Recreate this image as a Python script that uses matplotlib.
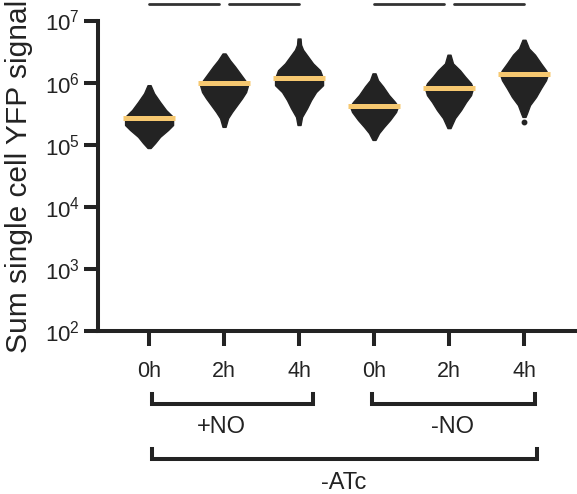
import numpy as np
import matplotlib
matplotlib.use('Agg')
import matplotlib.pyplot as plt
from matplotlib.ticker import NullLocator

# ---------------- data ----------------
time_labels = ['0h', '2h', '4h', '0h', '2h', '4h']

# shape of each single-cell distribution: log10 signal levels and relative spread
levels_g1 = [5.96, 5.83, 5.69, 5.56, 5.45, 5.32, 5.24, 5.13, 5.03, 4.95]
spread_g1 = [1.5, 5, 11, 17, 24, 24, 19, 11, 6, 1.5]
levels_g2 = [6.47, 6.36, 6.26, 6.15, 6.04, 5.96, 5.85, 5.75, 5.64, 5.53, 5.43, 5.29]
spread_g2 = [1.5, 6, 11, 16, 21, 24, 22, 18, 13, 8, 4, 1.5]
levels_g3 = [6.71, 6.61, 6.53, 6.42, 6.31, 6.20, 6.07, 5.96, 5.85, 5.72, 5.59, 5.45, 5.32]
spread_g3 = [1.5, 2, 4, 9, 14, 21, 24, 24, 17, 12, 8, 3, 1.5]
levels_g4 = [6.15, 6.04, 5.94, 5.80, 5.69, 5.62, 5.53, 5.40, 5.29, 5.19, 5.08]
spread_g4 = [1.5, 4, 9, 15, 21, 24, 22, 16, 10, 5, 1.5]
levels_g5 = [6.45, 6.31, 6.20, 6.10, 5.99, 5.91, 5.80, 5.69, 5.56, 5.43, 5.27]
spread_g5 = [1.5, 4, 11, 16, 22, 24, 22, 17, 12, 6, 1.5]
levels_g6 = [6.69, 6.55, 6.45, 6.31, 6.20, 6.14, 6.04, 5.91, 5.77, 5.64, 5.51, 5.45]
spread_g6 = [1.5, 5, 11, 17, 22, 24, 22, 17, 12, 6, 3, 1.5]

outlier_group = [5]
outlier_value = [2.35e5]

medians = [2.7e5, 9.8e5, 1.2e6, 4.2e5, 8.1e5, 1.38e6]

ytick_exponents = [2, 3, 4, 5, 6, 7]

sig_segments = [(0.0, 0.93), (1.07, 2.0), (3.0, 3.93), (4.07, 5.0)]

group_brackets = [('+NO', 0.04, 2.19, 0.96), ('-NO', 2.97, 5.15, 4.04)]
outer_bracket = ('-ATc', 0.04, 5.17, 2.6)

# ---------------- style ----------------
dark = '#232323'
yellow = '#F6C870'
width_scale = 1 / 75.0
plt.rcParams['font.family'] = ['Liberation Sans', 'DejaVu Sans']
plt.rcParams['mathtext.fontset'] = 'custom'
plt.rcParams['mathtext.rm'] = 'Liberation Sans'

fig = plt.figure(figsize=(5.77, 4.94), dpi=100)
ax = fig.add_axes([0.170, 0.329, 0.8265, 0.6295])
ax.set_yscale('log')
ax.set_ylim(1e2, 1e7)
ax.set_xlim(-0.68, 5.68)

levels = [levels_g1, levels_g2, levels_g3, levels_g4, levels_g5, levels_g6]
spreads = [spread_g1, spread_g2, spread_g3, spread_g4, spread_g5, spread_g6]
for i, (lv, sp) in enumerate(zip(levels, spreads)):
    y = 10 ** np.array(lv)
    hw = np.array(sp) * width_scale
    ax.fill_betweenx(y, i - hw, i + hw, facecolor=dark, edgecolor=dark, lw=1.0, zorder=2)

ax.plot(outlier_group, outlier_value, 'o', ms=3.2, color=dark, zorder=2)

for i, m in enumerate(medians):
    ax.hlines(m, i - 0.345, i + 0.345, color=yellow, lw=3.6, zorder=3)

for s in ['top', 'right']:
    ax.spines[s].set_visible(False)
for s in ['left', 'bottom']:
    ax.spines[s].set_linewidth(2.9)
    ax.spines[s].set_color(dark)

ax.set_yticks([10.0 ** e for e in ytick_exponents])
ax.set_yticklabels([r'$\mathdefault{10^{%d}}$' % e for e in ytick_exponents])
ax.yaxis.set_minor_locator(NullLocator())
ax.set_xticks(range(len(time_labels)))
ax.set_xticklabels(time_labels)
ax.tick_params(axis='y', length=10, width=2.9, pad=3, labelsize=16, color=dark, labelcolor=dark)
ax.tick_params(axis='x', length=11, width=2.9, pad=10, labelsize=15.5, color=dark, labelcolor=dark)

ax.set_ylabel('Sum single cell YFP signal', fontsize=21.5, color=dark)
ax.yaxis.set_label_coords(-0.1375, 0.5)

trans = ax.get_xaxis_transform()
for x0, x1 in sig_segments:
    ax.plot([x0, x1], [1.053, 1.053], transform=trans, clip_on=False, color='#333333', lw=2.0,
            solid_capstyle='round')

for label, x0, x1, xl in group_brackets:
    ax.plot([x0, x0, x1, x1], [-0.201, -0.233, -0.233, -0.201], transform=trans, clip_on=False,
            color=dark, lw=2.9, solid_joinstyle='miter')
    ax.text(xl, -0.307, label, transform=trans, ha='center', va='center', fontsize=17, color=dark)

label, x0, x1, xl = outer_bracket
ax.plot([x0, x0, x1, x1], [-0.378, -0.41, -0.41, -0.378], transform=trans, clip_on=False,
        color=dark, lw=2.9, solid_joinstyle='miter')
ax.text(xl, -0.487, label, transform=trans, ha='center', va='center', fontsize=17, color=dark)

fig.savefig('out.png', dpi=100)
